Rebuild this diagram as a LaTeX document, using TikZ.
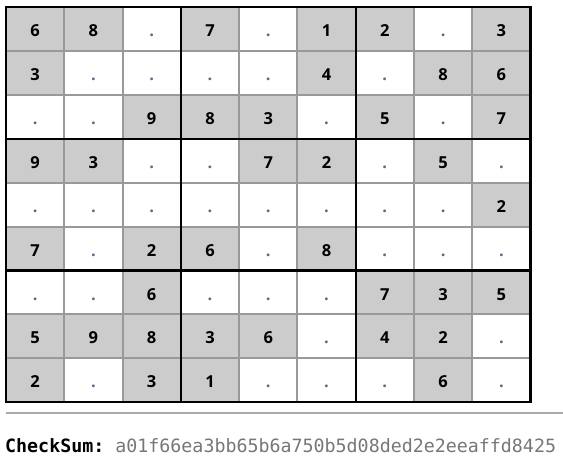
\documentclass[tikz,border=0pt]{standalone}
\usepackage{fontspec}
\setmainfont{Open Sans}
\setmonofont{DejaVu Sans Mono}
\definecolor{cellgray}{HTML}{CCCCCC}
\definecolor{linegray}{HTML}{999999}
\definecolor{rulegray}{HTML}{AAAAAA}
\definecolor{dotgray}{HTML}{5A6A88}
\definecolor{hashgray}{HTML}{777777}
\begin{document}
\begin{tikzpicture}[x=1pt,y=-1pt,
    given/.style={anchor=base,font=\fontsize{16.5}{16.5}\selectfont\bfseries},
    blank/.style={anchor=base,text=dotgray,font=\fontsize{16.5}{16.5}\selectfont\bfseries},
    thin line/.style={linegray,line width=2pt},
    block line/.style={black,line width=2.2pt}]
	\useasboundingbox (0,0) rectangle (563,471);
	\def\xo{6}
	\def\yo{7}
	\def\cw{58.28}
	\def\ch{43.9}
	%cells, 0 is an empty cell
	\foreach \row [count=\r] in {{6,8,0,7,0,1,2,0,3},{3,0,0,0,0,4,0,8,6},{0,0,9,8,3,0,5,0,7},
			{9,3,0,0,7,2,0,5,0},{0,0,0,0,0,0,0,0,2},{7,0,2,6,0,8,0,0,0},
			{0,0,6,0,0,0,7,3,5},{5,9,8,3,6,0,4,2,0},{2,0,3,1,0,0,0,6,0}}
		\foreach \v [count=\c] in \row {
			\ifnum\v=0
				\node[blank] (c\r\c) at ({\xo+(\c-.5)*\cw},{\yo+(\r-.5)*\ch+7.7}) {.};
			\else
				\fill[cellgray] ({\xo+(\c-1)*\cw},{\yo+(\r-1)*\ch}) rectangle ++(\cw,\ch);
				\node[given] (c\r\c) at ({\xo+(\c-.5)*\cw},{\yo+(\r-.5)*\ch+7.7}) {\v};
			\fi
		}
	%grid
	\foreach \i in {1,2,4,5,7,8} {
		\draw[thin line] ({\xo+\i*\cw},\yo) -- ++(0,9*\ch);
		\draw[thin line] (\xo,{\yo+\i*\ch}) -- ++(9*\cw,0);
	}
	\foreach \i in {0,3,6,9} {
		\draw[block line] ({\xo+\i*\cw},\yo-1.1) -- ++(0,9*\ch+2.2);
		\draw[block line] (\xo-1.1,{\yo+\i*\ch}) -- ++(9*\cw+2.2,0);
	}
	%checksum
	\draw[rulegray,line width=1.5pt] (6,413) -- (563,413);
	\node[anchor=base west,inner sep=0pt,font=\fontsize{18.3}{18.3}\selectfont\ttfamily] (sum) at (5,452)
		{\textbf{CheckSum:} {\color{hashgray}a01f66ea3bb65b6a750b5d08ded2e2eeaffd8425}};
\end{tikzpicture}
\end{document}
